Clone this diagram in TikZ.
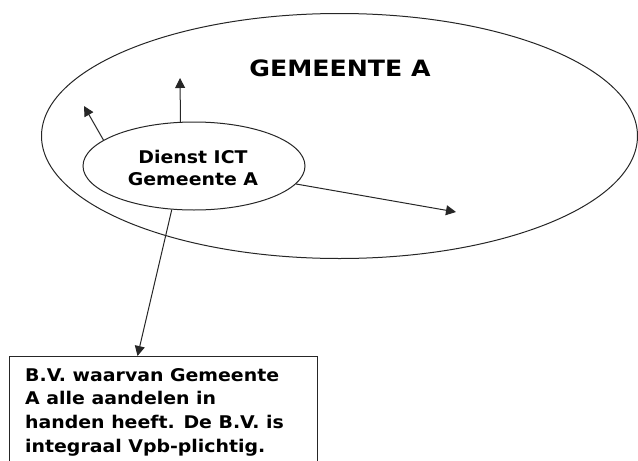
\documentclass[tikz,border=0pt]{standalone}
\usepackage{fontspec}
\setmainfont{DejaVu Sans}[FakeStretch=1.08]
\newfontfamily\titlefont{DejaVu Sans}[FakeStretch=1.12]
\usetikzlibrary{shapes.geometric,arrows.meta}
\begin{document}
\begin{tikzpicture}[x=1pt,y=-1pt,
  ln/.style={draw=black!85,line width=1pt},
  arr/.style={ln,-{Triangle[length=10pt,width=10pt]}},
  oval/.style={ellipse,ln,inner sep=0pt,fill=none},
  lbl/.style={font=\bfseries,text=black}]
\useasboundingbox (0,0) rectangle (638,461);
\clip (0,0) rectangle (638,461);
\node[oval,minimum width=596pt,minimum height=245pt] (gem) at (339.5,136) {};
\node[lbl,font=\titlefont\bfseries\fontsize{22.5}{26}\selectfont,anchor=base] (title) at (340,76) {GEMEENTE A};
\node[oval,minimum width=222pt,minimum height=88pt] (ict) at (194,166) {};
\node[lbl,font=\bfseries\fontsize{17.5}{22}\selectfont,align=center,anchor=north] (ictt) at (193,147) {Dienst ICT\\[0pt]Gemeente A};
\node[ln,draw,rectangle,minimum width=308pt,minimum height=140pt,anchor=north west] (bv) at (9,356) {};
\node[lbl,font=\bfseries\fontsize{17.5}{23.7}\selectfont,align=left,anchor=north west,inner sep=0pt] (bvt) at (25,368)
  {B.V. waarvan Gemeente\\A alle aandelen in\\handen heeft. De B.V. is\\integraal Vpb-plichtig.};
\coordinate (tup) at (180,78);
\coordinate (tleft) at (84,106);
\coordinate (tright) at (456,212);
\coordinate (tdown) at (137.5,356);
\draw[arr] (ict.107.6) -- (tup);
\draw[arr] (ict.164) -- (tleft);
\draw[arr] (ict.-10) -- (tright);
\draw[arr] (ict.243) -- (bv.north west -| tdown);
\end{tikzpicture}
\end{document}
